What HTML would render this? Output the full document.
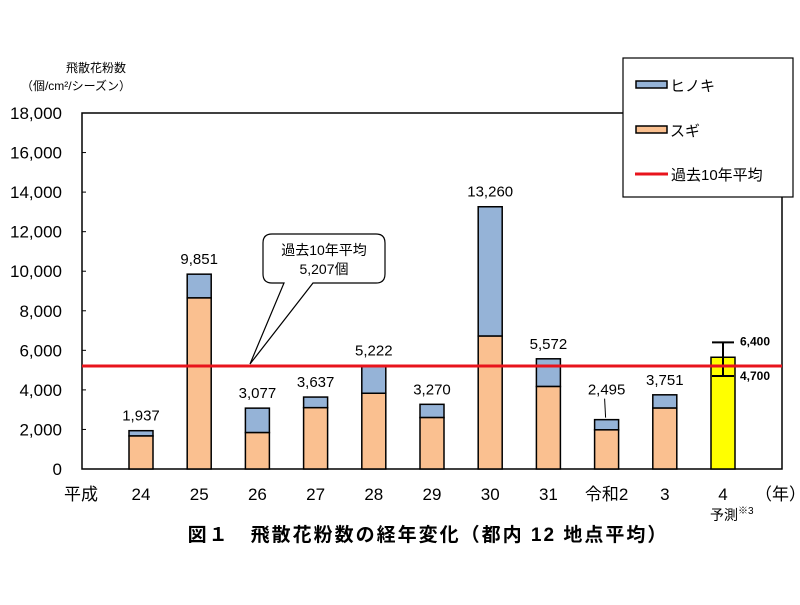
<!DOCTYPE html>
<html><head><meta charset="utf-8">
<style>
body{margin:0;background:#fff;}
svg text{font-family:"Liberation Sans","Noto Sans CJK JP",sans-serif;}
</style></head>
<body>
<svg id="chart" width="800" height="600" xmlns="http://www.w3.org/2000/svg">
<g>
<text x="96" y="72" font-size="12" text-anchor="middle">飛散花粉数</text>
<text x="76" y="90" font-size="12" text-anchor="middle">（個/cm²/シーズン）</text>
</g>
<rect x="82" y="113" width="700" height="356" fill="none" stroke="#000" stroke-width="1.5"/>
<g id="yticks"></g>
<g id="bars"></g>
<g id="xlabels"></g>
<line id="avgline" stroke="#e8141c" stroke-width="3"/>
<g>
<path d="M272 234 H376 Q385 234 385 243 V274 Q385 283 376 283 H313 L250 364 L284 283 H272 Q263 283 263 274 V243 Q263 234 272 234 Z" fill="#fff" stroke="#000" stroke-width="1.2"/>
<text x="324" y="255" font-size="14" text-anchor="middle">過去10年平均</text>
<text x="324" y="274" font-size="14" text-anchor="middle">5,207個</text>
</g>
<g>
<rect x="623" y="58" width="170" height="139" fill="#fff" stroke="#000" stroke-width="1.2"/>
<rect x="636" y="81" width="31" height="7" fill="#95b3d7" stroke="#000" stroke-width="1.5"/>
<text x="670" y="91" font-size="15">ヒノキ</text>
<rect x="636" y="126" width="31" height="7" fill="#fac090" stroke="#000" stroke-width="1.5"/>
<text x="670" y="136" font-size="15">スギ</text>
<line x1="635" y1="174" x2="668" y2="174" stroke="#e8141c" stroke-width="3"/>
<text x="671" y="180" font-size="15">過去10年平均</text>
</g>
<text x="755" y="500" font-size="17">（年）</text>
<text x="710" y="520" font-size="14">予測<tspan font-size="10" dy="-6">※3</tspan></text>
<text x="428" y="541" font-size="19" font-weight="bold" letter-spacing="2" text-anchor="middle">図１　飛散花粉数の経年変化（都内 12 地点平均）</text>
</svg>
<script>
const categories=["24","25","26","27","28","29","30","31","令和2","3","4"];
const sugi=[1670,8650,1840,3100,3830,2600,6720,4170,1980,3080,0];
const totals=[1937,9851,3077,3637,5222,3270,13260,5572,2495,3751,0];
const totalLabels=["1,937","9,851","3,077","3,637","5,222","3,270","13,260","5,572","2,495","3,751",""];
const forecast=[5650];
const forecastRange=[4700,6400];
const forecastLabels=["6,400","4,700"];
const average=[5207];
const yTicks=[0,2000,4000,6000,8000,10000,12000,14000,16000,18000];
const yTickLabels=["0","2,000","4,000","6,000","8,000","10,000","12,000","14,000","16,000","18,000"];

const NS="http://www.w3.org/2000/svg";
const y=v=>469-v*356/18000;
const x=i=>141+58.2*i;
const BW=24;
function mk(tag,attrs,parent,txt){const e=document.createElementNS(NS,tag);for(const k in attrs)e.setAttribute(k,attrs[k]);if(txt!==undefined)e.textContent=txt;parent.appendChild(e);return e;}
const yt=document.getElementById('yticks');
yTicks.forEach((v,i)=>{
  const t=mk('text',{x:62,y:y(v)+6,'font-size':17,'text-anchor':'end'},yt,yTickLabels[i]);
  
  
  mk('line',{x1:82,x2:86,y1:y(v),y2:y(v),stroke:'#000'},yt);
});
const bg=document.getElementById('bars');
const xl=document.getElementById('xlabels');
mk('text',{x:64,y:500,'font-size':17},xl,'平成');
categories.forEach((c,i)=>{
  const cx=x(i);
  const t=mk('text',{x:cx,y:500,'font-size':17,'text-anchor':'middle'},xl,c);
  
  
  if(i===categories.length-1)return;
  const h=mk('rect',{x:cx-BW/2,y:y(totals[i]),width:BW,height:y(sugi[i])-y(totals[i]),fill:'#95b3d7',stroke:'#000','stroke-width':1.5},bg);
  
  
  const s=mk('rect',{x:cx-BW/2,y:y(sugi[i]),width:BW,height:469-y(sugi[i]),fill:'#fac090',stroke:'#000','stroke-width':1.5},bg);
  
  
  const ly=(c==="令和2")?y(totals[i])-25:y(totals[i])-10;
  const l=mk('text',{x:cx,y:ly,'font-size':15,'text-anchor':'middle'},bg,totalLabels[i]);
  
  
  if(c==="令和2")mk('line',{x1:cx-2,x2:cx-1,y1:y(totals[i])-21,y2:y(totals[i])-2,stroke:'#000'},bg);
});
const fi=categories.length-1, fx=x(fi);
const fb=mk('rect',{x:fx-BW/2,y:y(forecast[0]),width:BW,height:469-y(forecast[0]),fill:'#ffff00',stroke:'#000','stroke-width':1.5},bg);


const eb=mk('path',{d:`M${fx-11} ${y(forecastRange[1])}H${fx+11}M${fx} ${y(forecastRange[1])}V${y(forecastRange[0])}M${fx-11} ${y(forecastRange[0])}H${fx+11}`,stroke:'#000','stroke-width':2,fill:'none'},bg);


mk('text',{x:fx+17,y:y(forecastRange[1])+3,'font-size':12,'font-weight':'bold'},bg,forecastLabels[0]);
mk('text',{x:fx+17,y:y(forecastRange[0])+4,'font-size':12,'font-weight':'bold'},bg,forecastLabels[1]);
const al=document.getElementById('avgline');
al.setAttribute('x1',82);al.setAttribute('x2',782);
al.setAttribute('y1',y(average[0]));al.setAttribute('y2',y(average[0]));
</script>
</body></html>
